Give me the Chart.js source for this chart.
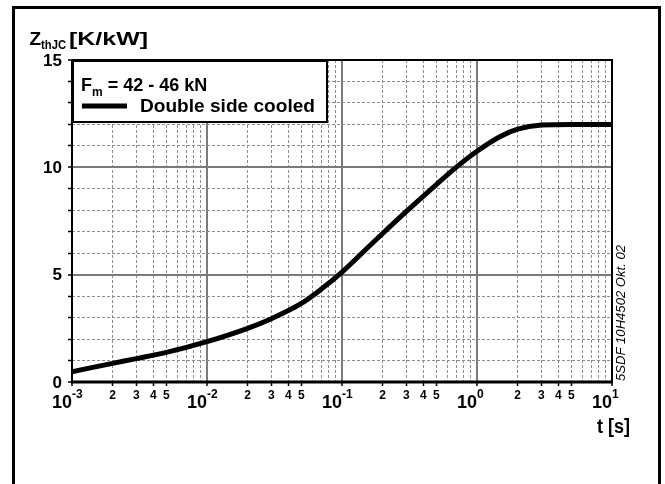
<!DOCTYPE html>
<html><head><meta charset="utf-8">
<script src="https://cdn.jsdelivr.net/npm/chart.js@4.4.1/dist/chart.umd.min.js"></script>
<style>html,body{margin:0;padding:0;background:#fff;} #wrap{width:665px;height:484px;position:relative;}</style>
</head><body><div id="wrap"><canvas id="c"></canvas></div>
<script>
// ---- data ----
const timeSeconds = [0.001, 0.002, 0.003, 0.005, 0.01, 0.02, 0.03, 0.05, 0.07, 0.1, 0.15, 0.2, 0.3, 0.5, 0.7, 1, 1.5, 2, 3, 5, 10];
const zthJC = [0.48, 0.87, 1.09, 1.38, 1.88, 2.5, 2.95, 3.66, 4.32, 5.12, 6.17, 6.92, 7.95, 9.2, 10.0, 10.75, 11.45, 11.78, 11.97, 12.0, 12.0];
const xDecades = [0.001, 0.01, 0.1, 1, 10];
const xDecadeExponents = ['-3', '-2', '-1', '0', '1'];
const xMinorMultipliers = [2, 3, 4, 5, 6, 7, 8, 9];
const xMinorLabels = ['2', '3', '4', '5'];
const yTickValues = [0,1,2,3,4,5,6,7,8,9,10,11,12,13,14,15];
const yLabelValues = [0, 5, 10, 15];
const yLabels = ['0', '5', '10', '15'];
const seriesLabel = 'Double side cooled';
const legendTitle = ['F', 'm', ' = 42 - 46 kN'];
const yTitle = ['Z', 'thJC', '[K/kW]'];
const xTitle = 't [s]';
const docCode = '5SDF 10H4502 Okt. 02';

// ---- derived tick lists ----
const xGridValues = [];
xDecades.forEach((d, i) => {
  xGridValues.push(d);
  if (i < xDecades.length - 1) xMinorMultipliers.forEach(m => xGridValues.push(+(d * m).toPrecision(3)));
});
const isDecade = v => Math.abs(Math.log10(v) - Math.round(Math.log10(v))) < 1e-6;
const mult = v => Math.round(v / Math.pow(10, Math.floor(Math.log10(v) + 1e-9)));

const FONT = '"Liberation Sans", Arial, sans-serif';
function txt(ctx, s, x, y, size, opts = {}) {
  ctx.save();
  ctx.font = (opts.style || 'bold') + ' ' + size + 'px ' + FONT;
  ctx.fillStyle = '#000';
  ctx.textBaseline = opts.baseline || 'alphabetic';
  const m = ctx.measureText(s).width;
  const sx = opts.width ? opts.width / m : 1;
  let x0 = x;
  if (opts.align === 'right') x0 = x - m * sx;
  else if (opts.align === 'center') x0 = x - m * sx / 2;
  ctx.translate(x0, y);
  ctx.scale(sx, 1);
  ctx.textAlign = 'left';
  ctx.fillText(s, 0, 0);
  ctx.restore();
  return m * sx;
}

const decor = {
  id: 'decor',
  beforeDraw(chart) {
    const c = chart.ctx;
    c.save(); c.fillStyle = '#fff'; c.fillRect(0, 0, chart.width, chart.height); c.restore();
  },
  afterDatasetsDraw(chart) {
    const c = chart.ctx, a = chart.chartArea;
    c.save();
    c.strokeStyle = '#000';
    // plot frame
    c.lineWidth = 2;
    c.beginPath(); c.moveTo(a.left, a.top); c.lineTo(a.right, a.top); c.lineTo(a.right, a.bottom); c.stroke();
    c.beginPath(); c.moveTo(a.left, a.top); c.lineTo(a.left, a.bottom); c.stroke();
    c.lineWidth = 3;
    c.beginPath(); c.moveTo(a.left - 1, a.bottom); c.lineTo(a.right + 1, a.bottom); c.stroke();
    // legend box
    c.fillStyle = '#fff';
    c.fillRect(a.left + 1, a.top + 1, 254, 61);
    c.lineWidth = 2;
    c.strokeRect(a.left + 1, a.top + 1, 254, 61);
    // legend line sample
    c.lineWidth = 5;
    c.beginPath(); c.moveTo(a.left + 10, a.top + 46); c.lineTo(a.left + 55, a.top + 46); c.stroke();
    // outer frame
    c.lineWidth = 3;
    c.strokeRect(13.5, 7.5, 646, 490);
    c.restore();

    // legend text
    const lx = a.left + 9;
    let w = txt(c, legendTitle[0], lx, a.top + 31, 18);
    w += txt(c, legendTitle[1], lx + w, a.top + 36, 12);
    txt(c, legendTitle[2], lx + w, a.top + 31, 18);
    txt(c, seriesLabel, a.left + 68, a.top + 52, 18, {width: 175});

    // y title
    let tw = txt(c, yTitle[0], 29.5, 45, 19);
    tw += txt(c, yTitle[1], 29.5 + tw, 49, 12, {width: 25});
    txt(c, yTitle[2], 69, 45, 19, {width: 79});

    // y labels
    const ys = chart.scales.y, xs = chart.scales.x;
    yLabelValues.forEach((v, i) => {
      txt(c, yLabels[i], 62, ys.getPixelForValue(v) + 1, 17, {align: 'right', baseline: 'middle'});
    });
    // x decade labels
    xDecades.forEach((d, i) => {
      const px = xs.getPixelForValue(d);
      txt(c, '10', px, 408, 18, {align: 'right'});
      txt(c, xDecadeExponents[i], px, 398, 12);
    });
    // x minor labels
    xDecades.slice(0, -1).forEach(d => {
      xMinorLabels.forEach(l => {
        const px = xs.getPixelForValue(d * Number(l));
        txt(c, l, px, 399, 12, {align: 'center'});
      });
    });
    // x title
    txt(c, xTitle, 597, 433, 20, {width: 33});
    // rotated document code
    c.save();
    c.translate(625, 381);
    c.rotate(-Math.PI / 2);
    txt(c, docCode, 0, 0, 13, {style: 'italic', width: 136});
    c.restore();
  }
};

new Chart(document.getElementById('c'), {
  type: 'line',
  data: {
    datasets: [{
      label: seriesLabel,
      data: timeSeconds.map((t, i) => ({x: t, y: zthJC[i]})),
      borderColor: '#000',
      borderWidth: 5,
      pointRadius: 0,
      cubicInterpolationMode: 'monotone',
      fill: false
    }]
  },
  options: {
    responsive: true,
    maintainAspectRatio: false,
    animation: false,
    events: [],
    layout: {padding: {left: 12, top: 60, right: 53, bottom: 0}},
    plugins: {legend: {display: false}, tooltip: {enabled: false}, title: {display: false}},
    scales: {
      x: {
        type: 'logarithmic', min: 0.001, max: 10,
        afterBuildTicks: s => { s.ticks = xGridValues.map(v => ({value: v})); },
        afterFit: s => { s.height = 102; },
        ticks: {display: false, autoSkip: false},
        border: {display: false, dash: ctx => (ctx.tick && !isDecade(ctx.tick.value)) ? [3, 2] : []},
        grid: {
          drawTicks: true, tickLength: 4,
          color: ctx => (ctx.tick && isDecade(ctx.tick.value)) ? '#7a7a7a' : '#8c8c8c',
          lineWidth: ctx => (ctx.tick && isDecade(ctx.tick.value)) ? 2 : 1,
          tickColor: ctx => (ctx.tick && mult(ctx.tick.value) <= 5) ? '#000' : 'rgba(0,0,0,0)',
          tickWidth: 1.5,
          tickBorderDash: []
        }
      },
      y: {
        type: 'linear', min: 0, max: 15,
        afterBuildTicks: s => { s.ticks = yTickValues.map(v => ({value: v})); },
        afterFit: s => { s.width = 60; },
        ticks: {display: false, autoSkip: false},
        border: {display: false, dash: ctx => (ctx.tick && ctx.tick.value % 5 !== 0) ? [3, 2] : []},
        grid: {
          drawTicks: true, tickLength: 4,
          color: ctx => (ctx.tick && ctx.tick.value % 5 === 0) ? '#7a7a7a' : '#8c8c8c',
          lineWidth: ctx => (ctx.tick && ctx.tick.value % 5 === 0) ? 2 : 1,
          tickColor: '#000',
          tickWidth: 1.5,
          tickBorderDash: []
        }
      }
    }
  },
  plugins: [decor]
});
</script>
</body></html>
